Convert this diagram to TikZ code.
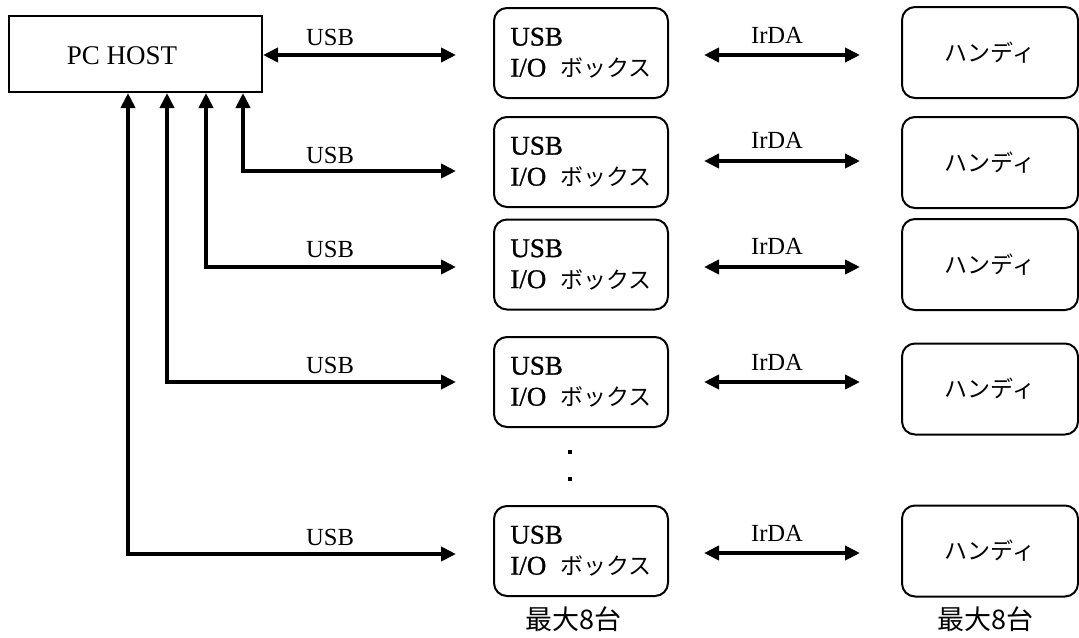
\documentclass[tikz,border=0pt]{standalone}
\usepackage{fontspec}
\setmainfont{Liberation Serif}
\newfontfamily\jp{Noto Sans CJK JP}
\newfontfamily\heavy[FakeBold=1]{Liberation Serif}
\usetikzlibrary{arrows.meta}
\begin{document}
\begin{tikzpicture}[
 x=0.5pt, y=-0.5pt,
 pcbox/.style={draw, line width=1pt, minimum width=126.5pt, minimum height=38pt, inner sep=0pt},
 iobox/.style={draw, line width=1pt, rounded corners=6.5pt, minimum width=87pt, minimum height=45pt, inner sep=0pt, align=left, font=\fontsize{13.5}{15.5}\selectfont},
 handy/.style={draw, line width=1pt, rounded corners=6.5pt, minimum width=88pt, minimum height=45.5pt, inner sep=0pt, font=\jp\fontsize{11.5}{14}\selectfont},
 link/.style={line width=2pt, {Triangle[length=7.5pt,width=7pt]}-{Triangle[length=7.5pt,width=7pt]}},
 lbl/.style={anchor=base, inner sep=0pt, font=\fontsize{12.3}{14}\selectfont},
 cnt/.style={font=\jp\fontsize{13.5}{15}\selectfont, inner sep=0pt},
 dotmark/.style={fill, minimum size=2pt, inner sep=0pt}
]
\useasboundingbox (0,0) rectangle (1079,637);

% PC host
\node[pcbox] (pc) at (135.5,54) {};
\node[lbl, font=\fontsize{13.5}{15}\selectfont] (pct) at (122,64) {PC HOST};

% USB I/O boxes
\newcommand{\iotext}{{\heavy USB}\\{\heavy I/O}\hspace{7pt}{\jp\fontsize{11.5}{15.5}\selectfont ボックス}}
\node[iobox] (u1) at (581,53) {\iotext};
\node[iobox] (u2) at (581,162) {\iotext};
\node[iobox] (u3) at (581,264.5) {\iotext};
\node[iobox] (u4) at (581,382) {\iotext};
\node[iobox] (u5) at (581,551) {\iotext};

% handy boxes
\node[handy] (h1) at (990,52.5) {ハンディ};
\node[handy] (h2) at (990,162.5) {ハンディ};
\node[handy] (h3) at (990,264.5) {ハンディ};
\node[handy] (h4) at (990,389) {ハンディ};
\node[handy] (h5) at (990,551) {ハンディ};

% USB arrow ends
\coordinate (e1) at (456,55);
\coordinate (e2) at (456,171);
\coordinate (e3) at (456,267);
\coordinate (e4) at (456,382);
\coordinate (e5) at (456,554);

\draw[link] (pc.east |- e1) -- (e1);
\draw[link] ([xshift=-10pt]pc.south east) |- (e2);
\draw[link] ([xshift=-28.5pt]pc.south east) |- (e3);
\draw[link] ([xshift=-48pt]pc.south east) |- (e4);
\draw[link] ([xshift=-67.5pt]pc.south east) |- (e5);

\node[lbl] (l1) at (330,45) {USB};
\node[lbl] (l2) at (330,163) {USB};
\node[lbl] (l3) at (330,257) {USB};
\node[lbl] (l4) at (330,373) {USB};
\node[lbl] (l5) at (330,545) {USB};

% IrDA arrows
\coordinate (ia1) at (704,55);  \coordinate (ib1) at (860,55);
\coordinate (ia2) at (704,161); \coordinate (ib2) at (860,161);
\coordinate (ia3) at (704,267); \coordinate (ib3) at (860,267);
\coordinate (ia4) at (704,382); \coordinate (ib4) at (860,382);
\coordinate (ia5) at (704,553); \coordinate (ib5) at (860,553);
\draw[link] (ia1) -- (ib1);
\draw[link] (ia2) -- (ib2);
\draw[link] (ia3) -- (ib3);
\draw[link] (ia4) -- (ib4);
\draw[link] (ia5) -- (ib5);

\node[lbl] (r1) at (777,43) {IrDA};
\node[lbl] (r2) at (777,148) {IrDA};
\node[lbl] (r3) at (777,254) {IrDA};
\node[lbl] (r4) at (777,370) {IrDA};
\node[lbl] (r5) at (777,541) {IrDA};

% dots
\node[dotmark] (d1) at (570,452) {};
\node[dotmark] (d2) at (570,479) {};

% counts
\node[cnt] (c1) at (573,619) {最大8台};
\node[cnt] (c2) at (985,619) {最大8台};
\end{tikzpicture}
\end{document}
